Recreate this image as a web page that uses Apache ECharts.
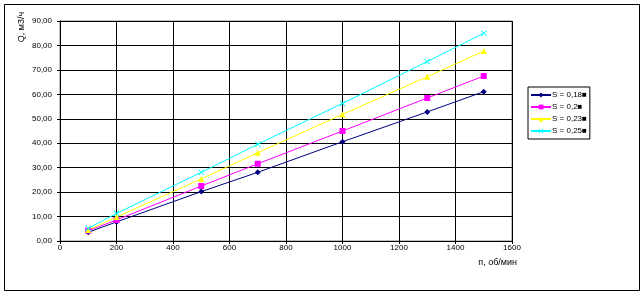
<!DOCTYPE html>
<html>
<head>
<meta charset="utf-8">
<script src="https://cdn.jsdelivr.net/npm/echarts@6/dist/echarts.min.js"></script>
<style>
html,body{margin:0;padding:0;background:#fff;}
#c{width:642px;height:294px;}
</style>
</head>
<body>
<div id="c"></div>
<script>
const xValues = [100, 200, 500, 700, 1000, 1300, 1500];
const seriesNames = ['S = 0,18■', 'S = 0,2■', 'S = 0,23■', 'S = 0,25■'];
const s018 = [3.6, 7.8, 20.2, 28.1, 40.6, 52.8, 61.1];
const s020 = [4.2, 8.6, 22.5, 31.6, 45.0, 58.5, 67.5];
const s023 = [4.5, 9.8, 25.4, 36.1, 51.8, 67.2, 77.7];
const s025 = [5.2, 11.3, 28.1, 39.6, 56.3, 73.4, 85.0];
const xTicks = [0, 200, 400, 600, 800, 1000, 1200, 1400, 1600];
const yTicks = [0, 10, 20, 30, 40, 50, 60, 70, 80, 90];

const colors = ['#000080', '#FF00FF', '#FFFF00', '#00FFFF'];
const symbols = ['diamond', 'rect', 'triangle',
  'path://M0,1L1,0L5,4L9,0L10,1L6,5L10,9L9,10L5,6L1,10L0,9L4,5Z'];
const sizes = [6, 6, 6, 6];
const allData = [s018, s020, s023, s025];
const font = 'Liberation Sans';

const chart = echarts.init(document.getElementById('c'), null, {renderer: 'canvas'});
chart.setOption({
  animation: false,
  backgroundColor: '#fff',
  grid: {left: 60, right: 130, top: 21, bottom: 53, show: true, borderColor: '#808080', borderWidth: 1},
  xAxis: {
    type: 'value', min: xTicks[0], max: xTicks[xTicks.length - 1], interval: 200,
    axisLine: {show: true, lineStyle: {color: '#000', width: 1}},
    axisTick: {show: true, length: 3, lineStyle: {color: '#000'}},
    splitLine: {show: true, lineStyle: {color: '#000', width: 1}},
    axisLabel: {color: '#000', fontFamily: font, fontSize: 8, margin: 3,
      formatter: v => xTicks.includes(v) ? String(v) : ''}
  },
  yAxis: {
    type: 'value', min: yTicks[0], max: yTicks[yTicks.length - 1], interval: 10,
    axisLine: {show: true, lineStyle: {color: '#000', width: 1}},
    axisTick: {show: true, length: 3, lineStyle: {color: '#000'}},
    splitLine: {show: true, lineStyle: {color: '#000', width: 1}},
    axisLabel: {color: '#000', fontFamily: font, fontSize: 8, margin: 8,
      formatter: v => v.toFixed(2).replace('.', ',')}
  },
  legend: {
    orient: 'vertical', left: 528, top: 87, padding: [4, 3, 4, 2],
    borderColor: '#000', borderWidth: 1, itemGap: 4,
    itemWidth: 20, itemHeight: 6,
    textStyle: {color: '#000', fontFamily: font, fontSize: 8, padding: [0, 0, 0, -4]},
    data: seriesNames
  },
  graphic: [
    {type: 'rect', shape: {x: 4.5, y: 4.5, width: 635, height: 286}, style: {fill: 'none', stroke: '#000', lineWidth: 1}, silent: true, z: -1},
    {type: 'text', x: 22, y: 27, rotation: Math.PI / 2, style: {text: 'Q, м3/ч', font: '9px "Liberation Sans"', fill: '#000', textAlign: 'center', textVerticalAlign: 'middle'}},
    {type: 'text', x: 517, y: 263, style: {text: 'п, об/мин', font: '9px "Liberation Sans"', fill: '#000', textAlign: 'right', textVerticalAlign: 'middle'}}
  ],
  series: allData.map((d, i) => ({
    name: seriesNames[i], type: 'line',
    data: d.map((v, j) => [xValues[j], v]),
    symbol: symbols[i], symbolSize: sizes[i], showSymbol: true,
    itemStyle: {color: colors[i]},
    lineStyle: {color: colors[i], width: 1}
  }))
});
</script>
</body>
</html>
